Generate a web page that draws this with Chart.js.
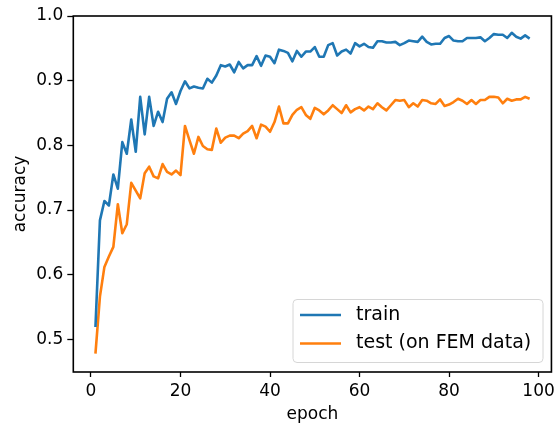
<!DOCTYPE html>
<html>
<head>
<meta charset="utf-8">
<script src="https://cdn.jsdelivr.net/npm/chart.js@4/dist/chart.umd.min.js"></script>
<style>
  html, body { margin: 0; padding: 0; background: #fff; }
  #wrap { width: 559px; height: 431px; }
</style>
</head>
<body>
<div id="wrap"><canvas id="c" width="559" height="431"></canvas></div>
<script>
const epochs = [1,2,3,4,5,6,7,8,9,10,11,12,13,14,15,16,17,18,19,20,
  21,22,23,24,25,26,27,28,29,30,31,32,33,34,35,36,37,38,39,40,
  41,42,43,44,45,46,47,48,49,50,51,52,53,54,55,56,57,58,59,60,
  61,62,63,64,65,66,67,68,69,70,71,72,73,74,75,76,77,78,79,80,
  81,82,83,84,85,86,87,88,89,90,91,92,93,94,95,96,97,98];

const trainAcc = [0.519,0.684,0.714,0.707,0.755,0.733,0.805,0.787,0.840,0.790,
  0.875,0.817,0.875,0.830,0.852,0.836,0.872,0.882,0.864,0.884,
  0.899,0.888,0.891,0.889,0.888,0.903,0.897,0.908,0.924,0.922,
  0.925,0.913,0.929,0.919,0.924,0.924,0.938,0.923,0.939,0.937,
  0.927,0.948,0.946,0.943,0.930,0.946,0.937,0.945,0.945,0.952,
  0.937,0.937,0.955,0.958,0.939,0.945,0.948,0.942,0.958,0.953,
  0.957,0.952,0.951,0.961,0.961,0.959,0.959,0.960,0.955,0.958,
  0.962,0.961,0.960,0.968,0.960,0.956,0.957,0.957,0.966,0.969,
  0.962,0.961,0.961,0.966,0.966,0.966,0.967,0.961,0.966,0.972,
  0.971,0.971,0.966,0.974,0.968,0.965,0.970,0.965];

const testAcc = [0.478,0.566,0.612,0.628,0.643,0.709,0.664,0.678,0.742,0.730,
  0.718,0.757,0.767,0.752,0.749,0.771,0.759,0.755,0.761,0.754,
  0.830,0.808,0.787,0.813,0.799,0.794,0.793,0.826,0.804,0.812,
  0.815,0.815,0.811,0.818,0.822,0.830,0.811,0.832,0.829,0.821,
  0.836,0.860,0.834,0.834,0.847,0.855,0.859,0.847,0.841,0.858,
  0.854,0.848,0.854,0.862,0.856,0.850,0.862,0.851,0.856,0.859,
  0.854,0.860,0.856,0.865,0.859,0.854,0.862,0.870,0.869,0.870,
  0.859,0.865,0.860,0.870,0.869,0.865,0.864,0.871,0.861,0.863,
  0.867,0.872,0.869,0.864,0.870,0.864,0.870,0.870,0.875,0.875,
  0.874,0.865,0.872,0.869,0.871,0.871,0.875,0.872];

const xTicks = [0, 20, 40, 60, 80, 100];
const yTicks = [0.5, 0.6, 0.7, 0.8, 0.9, 1.0];
const seriesLabels = ['train', 'test (on FEM data)'];
const seriesColors = ['#1f77b4', '#ff7f0e'];

const FONT = "'DejaVu Sans', sans-serif";

const frame = {
  id: 'frame',
  afterDraw(chart) {
    const {ctx, chartArea: a} = chart;
    ctx.save();
    ctx.strokeStyle = '#000';
    ctx.lineWidth = 1.6;
    ctx.strokeRect(a.left, a.top, a.right - a.left, a.bottom - a.top);
    // legend (matplotlib style, inside axes, lower right)
    const bx = 293, by = 299.5, bw = 250, bh = 63, r = 4;
    ctx.fillStyle = 'rgba(255,255,255,0.8)';
    ctx.strokeStyle = '#d6d6d6';
    ctx.lineWidth = 1;
    ctx.beginPath();
    ctx.roundRect(bx, by, bw, bh, r);
    ctx.fill();
    ctx.stroke();
    ctx.font = '19px ' + FONT;
    ctx.textBaseline = 'middle';
    ctx.textAlign = 'left';
    const rows = [315, 343.5];
    chart.data.datasets.forEach((ds, i) => {
      ctx.strokeStyle = ds.borderColor;
      ctx.lineWidth = 2.6;
      ctx.beginPath();
      ctx.moveTo(300, rows[i]);
      ctx.lineTo(341, rows[i]);
      ctx.stroke();
      ctx.fillStyle = '#000';
      ctx.fillText(ds.label, 356, rows[i]);
    });
    ctx.restore();
  }
};

new Chart(document.getElementById('c'), {
  type: 'line',
  data: {
    datasets: [
      { label: seriesLabels[0], data: epochs.map((e, i) => ({x: e, y: trainAcc[i]})),
        borderColor: seriesColors[0], backgroundColor: seriesColors[0] },
      { label: seriesLabels[1], data: epochs.map((e, i) => ({x: e, y: testAcc[i]})),
        borderColor: seriesColors[1], backgroundColor: seriesColors[1] }
    ]
  },
  options: {
    responsive: false,
    animation: false,
    devicePixelRatio: 1,
    layout: { padding: { left: 0, right: 7, top: 16, bottom: 0 } },
    elements: {
      point: { radius: 0 },
      line: { borderWidth: 2.6, tension: 0, borderJoinStyle: 'round', borderCapStyle: 'butt' }
    },
    plugins: { legend: { display: false }, tooltip: { enabled: false } },
    scales: {
      x: {
        type: 'linear',
        min: -3.95, max: 102.87,
        afterBuildTicks(s) { s.ticks = xTicks.map(v => ({value: v})); },
        afterFit(s) { s.height = 59; },
        grid: { drawOnChartArea: false, drawTicks: true, tickLength: 5, tickColor: '#000', tickWidth: 1.3 },
        border: { display: false },
        ticks: { color: '#000', font: { family: FONT, size: 17 }, padding: 4, maxRotation: 0, autoSkip: false,
                 callback: v => String(v) },
        title: { display: true, text: 'epoch', color: '#000', font: { family: FONT, size: 17 },
                 padding: { top: 0, bottom: 6 } }
      },
      y: {
        type: 'linear',
        min: 0.4495, max: 1.0,
        afterBuildTicks(s) { s.ticks = yTicks.map(v => ({value: v})); },
        afterFit(s) { s.width = 73.3; },
        grid: { drawOnChartArea: false, drawTicks: true, tickLength: 6, tickColor: '#000', tickWidth: 1.3 },
        border: { display: false },
        ticks: { color: '#000', font: { family: FONT, size: 17 }, padding: 4, autoSkip: false,
                 callback: v => v.toFixed(1) },
        title: { display: true, text: 'accuracy', color: '#000', font: { family: FONT, size: 17 },
                 padding: { top: 10, bottom: 0 } }
      }
    }
  },
  plugins: [frame]
});
</script>
</body>
</html>
